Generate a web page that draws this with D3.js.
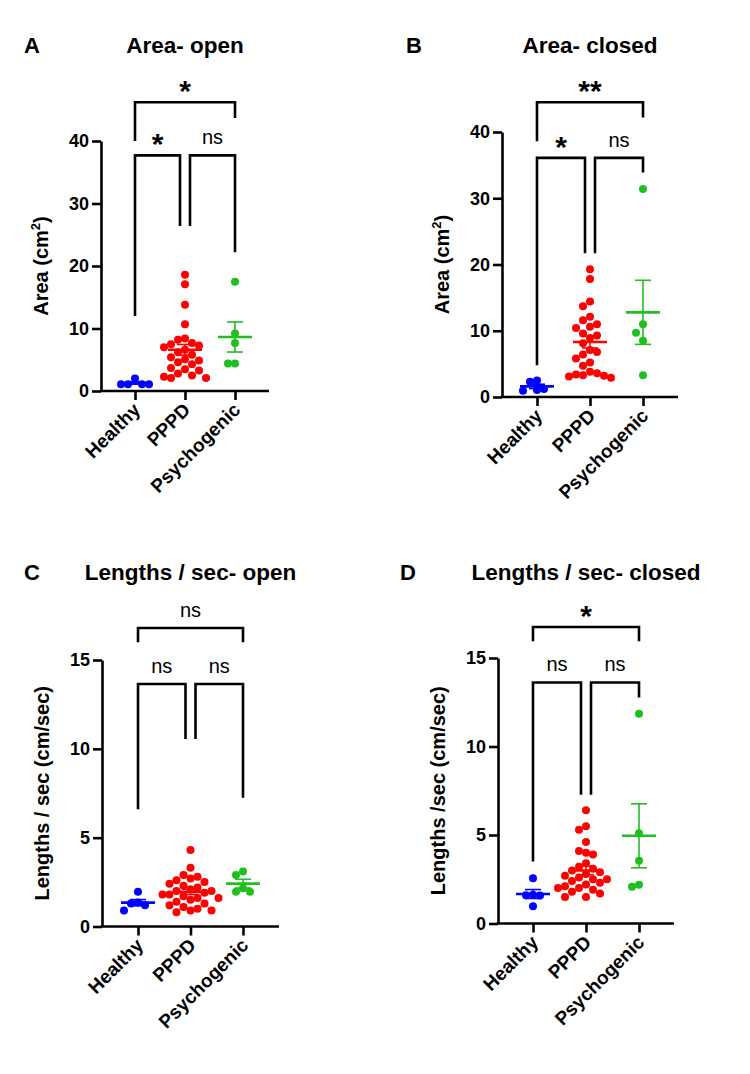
<!DOCTYPE html>
<html>
<head>
<meta charset="utf-8">
<script src="https://cdn.jsdelivr.net/npm/d3@7"></script>
<style>
body { margin: 0; background: #fff; }
text { font-family: "Liberation Sans", Arial, sans-serif; fill: #000; }
</style>
</head>
<body>
<div id="wrapper"></div>
<script>
// groups and colours
const groups = ["Healthy", "PPPD", "Psychogenic"];
const groupColors = ["#0000ff", "#ff0000", "#1fbf1f"];

// A - area, eyes open (cm2)
const areaOpenHealthy = [1.1, 2.0, 1.1, 1.1, 1.1];
const areaOpenPPPD = [18.6, 17.1, 13.8, 10.7, 8.4, 8.2, 7.7, 7.5, 7.3, 7.0, 6.6, 6.2, 5.8,
    5.4, 5.1, 4.9, 4.6, 4.3, 3.7, 3.5, 3.3, 2.8, 2.5, 2.3, 2.1, 2.1];
const areaOpenPsych = [17.5, 9.2, 7.7, 4.4, 4.4];

// B - area, eyes closed (cm2)
const areaClosedHealthy = [2.3, 2.5, 0.95, 1.05, 1.2];
const areaClosedPPPD = [19.3, 17.8, 14.4, 13.7, 12.1, 11.6, 11.0, 10.6, 10.4, 9.6, 9.3, 8.9,
    8.1, 7.1, 6.8, 6.4, 5.8, 5.2, 4.7, 3.8, 3.6, 3.4, 3.3, 3.2, 3.1, 2.9];
const areaClosedPsych = [31.4, 11.0, 9.7, 8.5, 3.3];

// C - lengths / sec, eyes open
const lenOpenHealthy = [1.96, 1.35, 1.3, 1.2, 0.9];
const lenOpenPPPD = [4.3, 3.3, 2.9, 2.8, 2.7, 2.6, 2.5, 2.4, 2.3, 2.2, 2.1, 2.0, 2.0, 1.9,
    1.8, 1.8, 1.7, 1.6, 1.6, 1.5, 1.4, 1.3, 1.2, 1.1, 1.0, 0.9, 0.9, 0.8];
const lenOpenPsych = [3.1, 2.9, 2.15, 1.95, 1.96];

// D - lengths / sec, eyes closed
const lenClosedHealthy = [2.55, 1.62, 1.6, 1.58, 0.98];
const lenClosedPPPD = [6.4, 5.5, 5.3, 4.6, 4.1, 4.0, 3.9, 3.4, 3.2, 3.1, 3.0, 2.9, 2.8, 2.7,
    2.6, 2.5, 2.5, 2.4, 2.3, 2.2, 2.1, 2.0, 2.0, 1.9, 1.8, 1.7, 1.5, 1.5];
const lenClosedPsych = [11.85, 5.1, 3.55, 2.19, 2.08];

// significance brackets: [from group, to group, bar value, leg end from, leg end to, label]
const areaOpenBrackets = [
    [0, 2, 46.2, 40.0, 43.7, "*"],
    [0, 1, 37.7, 12.0, 26.4, "*"],
    [1, 2, 37.7, 26.4, 22.2, "ns"]
];
const areaClosedBrackets = [
    [0, 2, 44.5, 38.6, 42.2, "**"],
    [0, 1, 36.1, 4.8, 21.7, "*"],
    [1, 2, 36.1, 21.7, 33.9, "ns"]
];
const lenOpenBrackets = [
    [0, 2, 16.8, 16.0, 16.0, "ns"],
    [0, 1, 13.65, 6.6, 10.56, "ns"],
    [1, 2, 13.65, 10.56, 7.25, "ns"]
];
const lenClosedBrackets = [
    [0, 2, 16.75, 15.94, 15.94, "*"],
    [0, 1, 13.62, 3.5, 7.27, "ns"],
    [1, 2, 13.62, 7.27, 12.77, "ns"]
];

const panels = [
    {letter: "A", title: "Area- open", ylab: "Area (cm", sup: "2", yMax: 40, ticks: [0, 10, 20, 30, 40],
     left: 101, right: 269, top: 141, bottom: 391, pad: 0.68, titleY: 53, letterX: 24,
     series: [areaOpenHealthy, areaOpenPPPD, areaOpenPsych], brackets: areaOpenBrackets},
    {letter: "B", title: "Area- closed", ylab: "Area (cm", sup: "2", yMax: 40, ticks: [0, 10, 20, 30, 40],
     left: 502, right: 678, top: 132, bottom: 397, pad: 0.66, titleY: 53, letterX: 406,
     series: [areaClosedHealthy, areaClosedPPPD, areaClosedPsych], brackets: areaClosedBrackets},
    {letter: "C", title: "Lengths / sec- open", ylab: "Lengths / sec (cm/sec)", yMax: 15, ticks: [0, 5, 10, 15],
     left: 102, right: 279, top: 660, bottom: 926.5, pad: 0.686, titleY: 580, letterX: 24,
     series: [lenOpenHealthy, lenOpenPPPD, lenOpenPsych], brackets: lenOpenBrackets},
    {letter: "D", title: "Lengths / sec- closed", ylab: "Lengths /sec (cm/sec)", yMax: 15, ticks: [0, 5, 10, 15],
     left: 498, right: 674, top: 658, bottom: 923.5, pad: 0.66, titleY: 580, letterX: 400,
     series: [lenClosedHealthy, lenClosedPPPD, lenClosedPsych], brackets: lenClosedBrackets}
];

const dotR = 4;

const svg = d3.select("#wrapper")
    .append("svg")
    .attr("width", 750)
    .attr("height", 1074);

// column scatter: each dot goes as near the centre as it can without
// sitting inside the box of a dot already placed
function swarm(values, y) {
    const wx = 7, wy = 9;
    const placed = [];
    const sorted = values.slice().sort((a, b) => b - a);
    sorted.forEach(v => {
        const py = y(v);
        let dx = 0;
        for (let k = 0; k < 400; k++) {
            const cand = (k % 2 ? -1 : 1) * Math.ceil(k / 2) * 0.5;
            const hit = placed.some(p => Math.abs(p.dx - cand) < wx && Math.abs(p.y - py) < wy);
            if (!hit) { dx = cand; break; }
        }
        placed.push({v: v, y: py, dx: dx});
    });
    return placed;
}

panels.forEach(p => {
    const g = svg.append("g");
    const x = d3.scalePoint().domain(groups).range([p.left, p.right]).padding(p.pad);
    const y = d3.scaleLinear().domain([0, p.yMax]).range([p.bottom, p.top]);
    const mid = (p.left + p.right) / 2;

    // panel letter + title
    g.append("text").attr("x", p.letterX).attr("y", p.titleY)
        .style("font-size", "22px").style("font-weight", "bold").text(p.letter);
    g.append("text").attr("x", mid).attr("y", p.titleY)
        .attr("text-anchor", "middle")
        .style("font-size", "22.5px").style("font-weight", "bold").text(p.title);

    // y axis
    const yAxis = g.append("g")
        .attr("transform", `translate(${p.left},0)`)
        .call(d3.axisLeft(y).tickValues(p.ticks).tickSize(9).tickPadding(3).tickSizeOuter(0));
    yAxis.select(".domain").attr("stroke", "#000").attr("stroke-width", 2.6);
    yAxis.selectAll(".tick line").attr("stroke", "#000").attr("stroke-width", 2.6);
    yAxis.selectAll(".tick text")
        .style("font-size", "18px").style("font-weight", "bold")
        .style("font-family", "'Liberation Sans', Arial, sans-serif").attr("fill", "#000");

    // x axis
    const xAxis = g.append("g")
        .attr("transform", `translate(0,${p.bottom})`)
        .call(d3.axisBottom(x).tickSize(9).tickSizeOuter(0));
    xAxis.select(".domain").attr("stroke", "#000").attr("stroke-width", 2.6)
        .attr("d", `M${p.left - 1.3},0H${p.right}`);
    xAxis.selectAll(".tick line").attr("stroke", "#000").attr("stroke-width", 2.6);
    xAxis.selectAll(".tick text")
        .attr("text-anchor", "end")
        .attr("dy", null)
        .attr("y", null)
        .attr("transform", "translate(6,20) rotate(-45)")
        .style("font-size", "19px").style("font-weight", "bold")
        .style("font-family", "'Liberation Sans', Arial, sans-serif").attr("fill", "#000");

    // y axis label
    const yl = g.append("text")
        .attr("transform", `translate(${p.left - 53},${(p.top + p.bottom) / 2}) rotate(-90)`)
        .attr("text-anchor", "middle")
        .style("font-size", "20px").style("font-weight", "bold");
    yl.append("tspan").text(p.ylab);
    if (p.sup) {
        yl.append("tspan").attr("dy", -8).style("font-size", "13px").text(p.sup);
        yl.append("tspan").attr("dy", 8).text(")");
    }

    // brackets
    p.brackets.forEach(b => {
        let xa = x(groups[b[0]]), xb = x(groups[b[1]]);
        if (b[1] - b[0] === 1) {
            if (b[0] === 1) xa += 5;
            if (b[1] === 1) xb -= 5;
        }
        const yb = y(b[2]);
        g.append("path")
            .attr("d", `M${xa},${y(b[3])}V${yb}H${xb}V${y(b[4])}`)
            .attr("fill", "none").attr("stroke", "#000").attr("stroke-width", 2.6);
        const star = b[5] !== "ns";
        g.append("text")
            .attr("x", (xa + xb) / 2)
            .attr("y", star ? yb - 1 : yb - 11)
            .attr("text-anchor", "middle")
            .style("font-size", star ? "30px" : "20px")
            .style("font-weight", star ? "bold" : "normal")
            .text(b[5]);
    });

    // dots + mean / SEM
    p.series.forEach((vals, i) => {
        const cx = x(groups[i]);
        const col = groupColors[i];
        g.append("g").selectAll("circle")
            .data(swarm(vals, y))
            .join("circle")
            .attr("cx", d => cx + d.dx)
            .attr("cy", d => d.y)
            .attr("r", dotR)
            .attr("fill", col);

        const m = d3.mean(vals);
        const sem = d3.deviation(vals) / Math.sqrt(vals.length);
        const eb = g.append("g").attr("stroke", col).attr("fill", "none");
        eb.append("line").attr("x1", cx).attr("x2", cx)
            .attr("y1", y(m - sem)).attr("y2", y(m + sem)).attr("stroke-width", 1.6);
        [m - sem, m + sem].forEach(v => {
            eb.append("line").attr("x1", cx - 8).attr("x2", cx + 8)
                .attr("y1", y(v)).attr("y2", y(v)).attr("stroke-width", 1.6);
        });
        eb.append("line").attr("x1", cx - 17).attr("x2", cx + 17)
            .attr("y1", y(m)).attr("y2", y(m)).attr("stroke-width", 2.6);
    });
});
</script>
</body>
</html>
